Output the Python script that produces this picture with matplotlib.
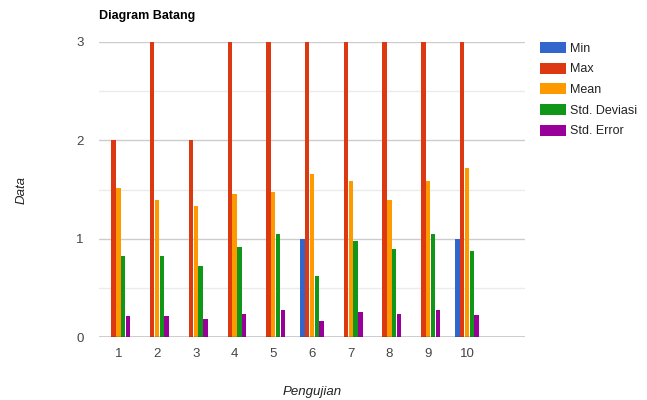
import matplotlib
matplotlib.use("Agg")
import matplotlib.pyplot as plt
from matplotlib.patches import Patch
import numpy as np

plt.rcParams['font.family'] = ['Liberation Sans', 'DejaVu Sans']

categories = ['1', '2', '3', '4', '5', '6', '7', '8', '9', '10']
series_names = ['Min', 'Max', 'Mean', 'Std. Deviasi', 'Std. Error']
min_vals = [0, 0, 0, 0, 0, 1, 0, 0, 0, 1]
max_vals = [2, 3, 2, 3, 3, 3, 3, 3, 3, 3]
mean_vals = [1.52, 1.39, 1.33, 1.45, 1.47, 1.66, 1.59, 1.39, 1.59, 1.72]
std_vals = [0.82, 0.82, 0.72, 0.92, 1.05, 0.62, 0.98, 0.90, 1.05, 0.87]
err_vals = [0.21, 0.21, 0.18, 0.23, 0.27, 0.16, 0.25, 0.23, 0.27, 0.22]
colors = ['#3366cc', '#dc3912', '#ff9900', '#109618', '#990099']

series = [min_vals, max_vals, mean_vals, std_vals, err_vals]

fig = plt.figure(figsize=(6.47, 4.0), dpi=100)
ax = fig.add_axes([99 / 647, 1 - 337 / 400, 426 / 647, 295 / 400])

x = np.arange(len(categories))
w = 0.124
for i, (vals, c) in enumerate(zip(series, colors)):
    ax.bar(x + (i - 2) * w, vals, width=w * 0.92, color=c, linewidth=0, zorder=3)

ax.set_xlim(-0.5, len(categories) + 0.5)
ax.set_ylim(0, 3)
ax.set_yticks([0, 1, 2, 3])
ax.set_yticks([0.5, 1.5, 2.5], minor=True)
ax.grid(axis='y', which='major', color='#cccccc', linewidth=1, zorder=0)
ax.grid(axis='y', which='minor', color='#ebebeb', linewidth=1, zorder=0)
ax.axhline(0, color='#333333', linewidth=1, zorder=4)
for s in ax.spines.values():
    s.set_visible(False)
ax.set_xticks(x)
ax.set_xticklabels(categories)
ax.tick_params(axis='both', which='both', length=0, labelsize=9.5, colors='#444444')
ax.tick_params(axis='x', pad=8)
ax.tick_params(axis='y', pad=11)

fig.text(99 / 647, 1 - 16 / 400, 'Diagram Batang', fontsize=9, fontweight='bold',
         color='#000000', va='center', ha='left')
fig.text(312 / 647, 1 - 392 / 400, 'Pengujian', fontsize=9.5, style='italic',
         color='#222222', ha='center', va='center')
fig.text(22 / 647, 1 - 190 / 400, 'Data', fontsize=9.5, style='italic',
         color='#222222', ha='center', va='center', rotation=90)

handles = [Patch(facecolor=c, edgecolor='none') for c in colors]
leg = fig.legend(handles, series_names, loc='upper left',
                 bbox_to_anchor=(540 / 647, 1 - 42 / 400), frameon=False,
                 fontsize=9, handlelength=2.1, handleheight=1.0,
                 handletextpad=0.3, labelspacing=0.62, borderpad=0,
                 borderaxespad=0)
for t in leg.get_texts():
    t.set_color('#222222')

fig.savefig('out.png', dpi=100)
